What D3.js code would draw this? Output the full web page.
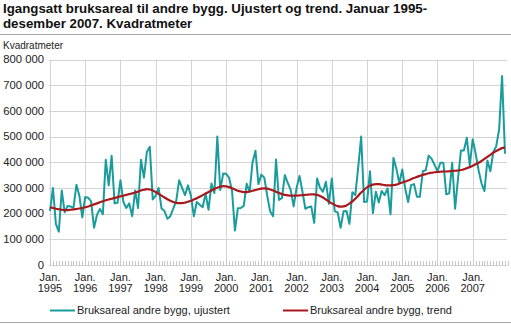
<!DOCTYPE html>
<html><head><meta charset="utf-8">
<script src="https://cdn.jsdelivr.net/npm/d3@7"></script>
<style>
body{margin:0;background:#fff;}
svg{display:block;font-family:"Liberation Sans",Arial,sans-serif;}
</style></head>
<body><svg id="c" width="511" height="324"></svg>
<script>
const title1 = "Igangsatt bruksareal til andre bygg. Ujustert og trend. Januar 1995-";
const title2 = "desember 2007. Kvadratmeter";
const yTitle = "Kvadratmeter";
const years = [1995,1996,1997,1998,1999,2000,2001,2002,2003,2004,2005,2006,2007];
const yTicks = [0,100000,200000,300000,400000,500000,600000,700000,800000];
const seriesNames = ["Bruksareal andre bygg, ujustert","Bruksareal andre bygg, trend"];
// thousands of m2, monthly Jan 1995 - Dec 2007
const ujustert = [
 210,300,160,130,290,205,230,228,222,312,270,185,
 265,262,248,145,195,218,198,410,310,425,240,242,
 330,245,222,240,190,290,222,410,340,440,460,255,
 270,300,220,210,180,190,220,250,330,300,272,310,
 270,190,245,235,225,278,215,317,280,500,292,356,
 355,340,290,134,221,222,230,316,285,400,445,315,
 352,340,270,209,190,411,253,260,350,320,292,228,
 300,347,285,219,225,228,164,337,300,285,324,238,
 337,209,205,145,209,210,160,283,272,381,500,245,
 247,365,202,285,243,288,272,298,198,417,375,318,
 372,298,245,311,315,266,266,365,369,426,413,390,
 365,398,398,275,279,398,219,337,446,446,495,388,
 490,433,369,318,288,407,365,439,462,528,736,433];
const trend = [
 225,222,219,217,215,214,214,215,216,218,220,222,
 225,228,232,236,240,244,248,252,255,258,261,264,
 267,270,273,276,279,282,286,290,293,295,294,290,
 284,277,270,263,256,250,245,242,241,241,243,246,
 250,255,260,266,272,278,284,290,296,301,305,307,
 306,303,299,294,289,286,284,284,286,289,292,295,
 297,298,297,294,290,285,280,276,273,271,270,270,
 270,271,272,273,274,275,275,273,269,263,255,247,
 240,234,229,227,228,232,239,248,258,270,282,293,
 302,309,313,315,315,313,311,310,310,311,313,317,
 321,325,329,334,339,343,347,351,354,357,359,361,
 362,363,364,364,365,366,367,368,370,373,377,381,
 386,392,398,405,413,421,429,437,444,450,455,458];

const svg = d3.select("#c");
const colTeal = "#1a9c9c", colRed = "#a8191e", grid = "#d4d4d4";
const x = d3.scaleLinear().domain([0,155]).range([50,505]);
const y = d3.scaleLinear().domain([0,800000]).range([265,59.5]);
const fmt = v => d3.format(",")(v).replace(/,/g," ");

// title
svg.append("text").attr("x",3).attr("y",13).attr("font-size","13.3px").attr("font-weight","bold").attr("fill","#111").text(title1);
svg.append("text").attr("x",3).attr("y",28).attr("font-size","13.3px").attr("font-weight","bold").attr("fill","#111").text(title2);
svg.append("line").attr("x1",0).attr("x2",511).attr("y1",34.5).attr("y2",34.5).attr("stroke","#a8a8a8").attr("stroke-width",1);
svg.append("text").attr("x",3).attr("y",49).attr("font-size","10px").attr("fill","#222").text(yTitle);

// horizontal grid + y labels
const gy = svg.append("g");
yTicks.forEach(t=>{
  gy.append("line").attr("x1",49).attr("x2",507).attr("y1",Math.round(y(t))+0.5).attr("y2",Math.round(y(t))+0.5)
    .attr("stroke",grid).attr("stroke-width",1);
  gy.append("text").attr("x",44).attr("y",y(t)).attr("dy","0.33em").attr("text-anchor","end")
    .attr("font-size","11.3px").attr("fill","#222").text(fmt(t));
});
// vertical grid at Jan
years.forEach((yr,i)=>{
  const xx = Math.round(x(i*12))+0.5;
  svg.append("line").attr("x1",xx).attr("x2",xx).attr("y1",y(800000)).attr("y2",y(0)).attr("stroke",grid).attr("stroke-width",1);
  svg.append("text").attr("x",x(i*12)).attr("y",281).attr("text-anchor","middle").attr("font-size","11px").attr("fill","#222").text("Jan.");
  svg.append("text").attr("x",x(i*12)).attr("y",292).attr("text-anchor","middle").attr("font-size","11px").attr("fill","#222").text(yr);
});
// monthly minor ticks
d3.range(0,157).forEach(m=>{
  const xx = Math.round(x(m))+0.5;
  svg.append("line").attr("x1",xx).attr("x2",xx).attr("y1",y(0)-4).attr("y2",y(0)+1).attr("stroke","#c8c8c8").attr("stroke-width",1);
});

const line = d3.line().x((d,i)=>x(i)).y(d=>y(d*1000));
svg.append("path").datum(ujustert).attr("d",line).attr("fill","none").attr("stroke",colTeal).attr("stroke-width",2).attr("stroke-linejoin","round");
svg.append("path").datum(trend).attr("d",line.curve(d3.curveMonotoneX)).attr("fill","none").attr("stroke",colRed).attr("stroke-width",2.2);

// legend
const lg = [[50,colTeal,seriesNames[0]],[283,colRed,seriesNames[1]]];
lg.forEach(([lx,c,t])=>{
  svg.append("line").attr("x1",lx).attr("x2",lx+25).attr("y1",310.5).attr("y2",310.5).attr("stroke",c).attr("stroke-width",2);
  svg.append("text").attr("x",lx+27).attr("y",310.5).attr("dy","0.35em").attr("font-size","11px").attr("fill","#222").text(t);
});
svg.append("line").attr("x1",0).attr("x2",511).attr("y1",322.5).attr("y2",322.5).attr("stroke","#a8a8a8").attr("stroke-width",1);
</script></body></html>
